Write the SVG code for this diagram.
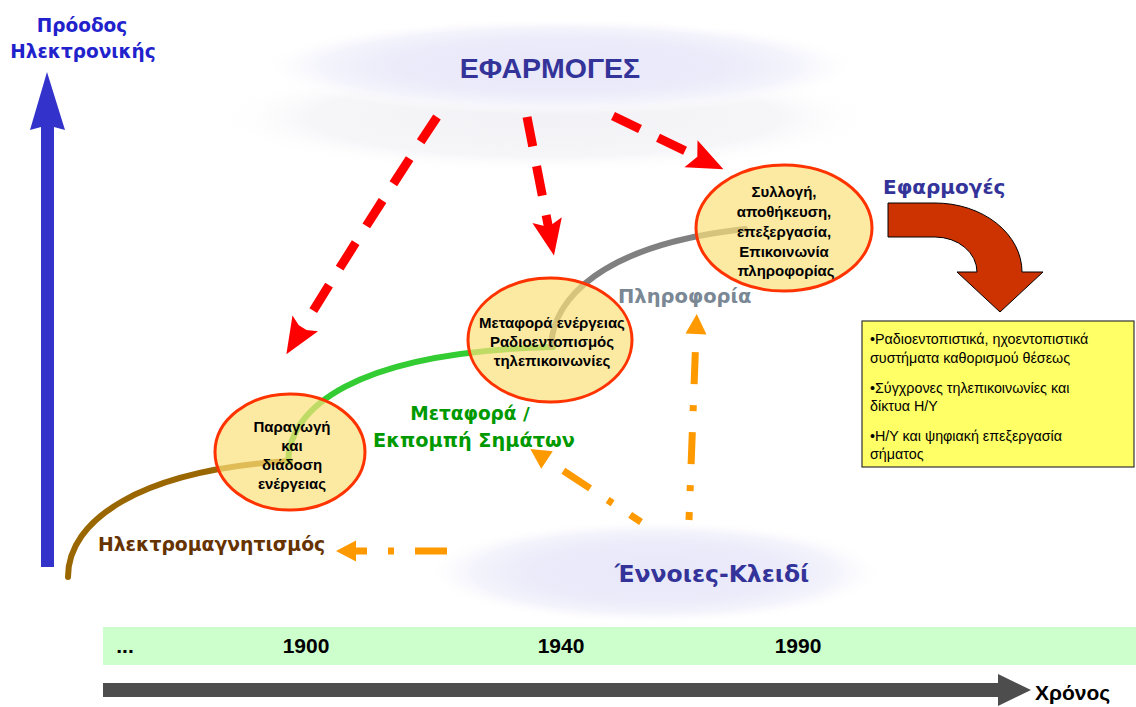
<svg xmlns="http://www.w3.org/2000/svg" width="1136" height="707" viewBox="0 0 1136 707">
<defs>
<radialGradient id="glow" cx="50%" cy="50%" r="50%">
<stop offset="0" stop-color="#e8e8f9"/>
<stop offset="0.55" stop-color="#ebebfa"/>
<stop offset="0.8" stop-color="#f4f4fc"/>
<stop offset="1" stop-color="#ffffff" stop-opacity="0"/>
</radialGradient>
<radialGradient id="glow2" cx="50%" cy="50%" r="50%">
<stop offset="0" stop-color="#f2f2f6"/>
<stop offset="0.7" stop-color="#f6f6f9"/>
<stop offset="1" stop-color="#ffffff" stop-opacity="0"/>
</radialGradient>
<marker id="redHead" markerUnits="userSpaceOnUse" markerWidth="60" markerHeight="60" refX="10" refY="0" orient="auto" viewBox="-5 -30 60 60" overflow="visible">
<path d="M0,-15 L36,0 L0,15 L7,0 Z" fill="#ff0000"/>
</marker>
<marker id="orangeHead" markerUnits="userSpaceOnUse" markerWidth="40" markerHeight="40" refX="0" refY="0" orient="auto" viewBox="-5 -20 40 40" overflow="visible">
<path d="M0,-10.5 L20,0 L0,10.5 Z" fill="#ff9900"/>
</marker>
<style>
.node ellipse{fill:#fce17a;fill-opacity:0.7;stroke:#ff3300;stroke-width:3}
.node text{font-family:"Liberation Sans",Arial,sans-serif;font-weight:bold;font-size:15px;fill:#000;text-anchor:middle}
.red{fill:none;stroke:#ff0000;stroke-width:9;stroke-dasharray:30 20;marker-end:url(#redHead)}
.orange{fill:none;stroke:#ff9900;stroke-width:7;stroke-dasharray:32 21 6 21;marker-end:url(#orangeHead)}
.curve{fill:none;stroke-width:6;stroke-linecap:round}
.lbl{font-family:"DejaVu Sans",Verdana,sans-serif;font-weight:bold}
.box{font-family:"Liberation Sans",Arial,sans-serif;font-size:14.3px;fill:#000}
.year{font-family:"Liberation Sans",Arial,sans-serif;font-weight:bold;font-size:21px;fill:#000;text-anchor:middle}
</style>
</defs>
<rect width="1136" height="707" fill="#ffffff"/>

<!-- background glows -->
<ellipse cx="545" cy="118" rx="335" ry="55" fill="url(#glow2)"/>
<g id="efarmoges">
<ellipse cx="560" cy="66" rx="300" ry="48" fill="url(#glow)"/>
<text x="550" y="78" font-family="Liberation Sans, Arial, sans-serif" font-weight="bold" font-size="28.5" fill="#333399" text-anchor="middle">ΕΦΑΡΜΟΓΕΣ</text>
</g>
<g id="ennoies">
<ellipse cx="655" cy="572" rx="230" ry="52" fill="url(#glow)"/>
<text x="712" y="582" class="lbl" font-size="23.5" fill="#333399" text-anchor="middle">Έννοιες-Κλειδί</text>
</g>

<!-- vertical axis -->
<g id="y-axis">
<path d="M41,567 L41,127 L30,130 L47,72 L65,130 L54,127 L54,567 Z" fill="#3333cc"/>
<text x="82" y="32" class="lbl" font-size="18.5" fill="#2222cc" text-anchor="middle">Πρόοδος</text>
<text x="83" y="58" class="lbl" font-size="18.5" fill="#2222cc" text-anchor="middle">Ηλεκτρονικής</text>
</g>

<!-- timeline -->
<g id="timeline">
<rect x="103" y="627" width="1033" height="38" fill="#ccffcc"/>
<text x="125" y="653" class="year">...</text>
<text x="306" y="653" class="year">1900</text>
<text x="561" y="653" class="year">1940</text>
<text x="798" y="653" class="year">1990</text>
<path d="M103,683 L998,683 L998,674 L1031,690 L998,706 L998,697 L103,697 Z" fill="#4d4d4d"/>
<text x="1035" y="700" font-family="Liberation Sans, Arial, sans-serif" font-weight="bold" font-size="21" fill="#000">Χρόνος</text>
</g>

<!-- progress curves -->
<g id="curves">
<path class="curve" d="M68,577 C68,520 140,470 290,461" stroke="#996600"/>
<path class="curve" d="M288,462 C289,410 350,352 553,347" stroke="#33cc33"/>
<path class="curve" d="M551,346 C553,300 600,245 745,229" stroke="#808080"/>
</g>

<!-- nodes -->
<g id="node-energy" class="node">
<ellipse cx="290" cy="452" rx="75" ry="58"/>
<text x="292" y="432">Παραγωγή</text>
<text x="292" y="451">και</text>
<text x="292" y="470">διάδοση</text>
<text x="292" y="489">ενέργειας</text>
</g>
<g id="node-transfer" class="node">
<ellipse cx="550" cy="340" rx="82" ry="62"/>
<text x="552" y="328">Μεταφορά ενέργειας</text>
<text x="552" y="347">Ραδιοεντοπισμός</text>
<text x="552" y="366">τηλεπικοινωνίες</text>
</g>
<g id="node-info" class="node">
<ellipse cx="784" cy="228" rx="88" ry="63"/>
<text x="784" y="197">Συλλογή,</text>
<text x="784" y="217">αποθήκευση,</text>
<text x="784" y="237">επεξεργασία,</text>
<text x="784" y="257">Επικοινωνία</text>
<text x="786" y="276">πληροφορίας</text>
</g>

<!-- connectors -->
<g id="connectors">
<path class="red" d="M437,117 Q372,215 300,332"/>
<path class="red" d="M527,117 L549,230"/>
<path class="red" d="M613,116 L700,158"/>
<path class="orange" d="M447,551 L356,551"/>
<path class="orange" d="M641,522 L547,460" stroke-dashoffset="19"/>
<path class="orange" d="M689,520 L696,334" stroke-dashoffset="24"/>
</g>

<!-- labels -->
<g id="labels">
<text x="98" y="551" class="lbl" font-size="18.8" fill="#663300">Ηλεκτρομαγνητισμός</text>
<text x="470" y="420" class="lbl" font-size="18.5" fill="#009900" text-anchor="middle">Μεταφορά /</text>
<text x="474" y="447" class="lbl" font-size="19.3" fill="#009900" text-anchor="middle">Εκπομπή Σημάτων</text>
<text x="618" y="303" class="lbl" font-size="19.5" fill="#7a8794">Πληροφορία</text>
<text x="883" y="194" class="lbl" font-size="20" fill="#333399">Εφαρμογές</text>
</g>

<!-- applications arrow and box -->
<g id="app-arrow">
<path d="M888,203 L935,203 A87,69 0 0 1 1022,272 L1043,272 L1000,312 L957,272 L977,272 A42,35 0 0 0 935,237 L888,237 Z" fill="#cc3300" stroke="#000" stroke-width="1"/>
</g>
<g id="app-box">
<rect x="862" y="321" width="272" height="146" fill="#ffff66" stroke="#333333" stroke-width="1.2"/>
<text x="870" y="344" class="box">•Ραδιοεντοπιστικά, ηχοεντοπιστικά</text>
<text x="870" y="363" class="box">συστήματα καθορισμού θέσεως</text>
<text x="870" y="393" class="box">•Σύγχρονες τηλεπικοινωνίες και</text>
<text x="870" y="411" class="box">δίκτυα Η/Υ</text>
<text x="870" y="441" class="box">•Η/Υ και ψηφιακή επεξεργασία</text>
<text x="870" y="459" class="box">σήματος</text>
</g>
</svg>
